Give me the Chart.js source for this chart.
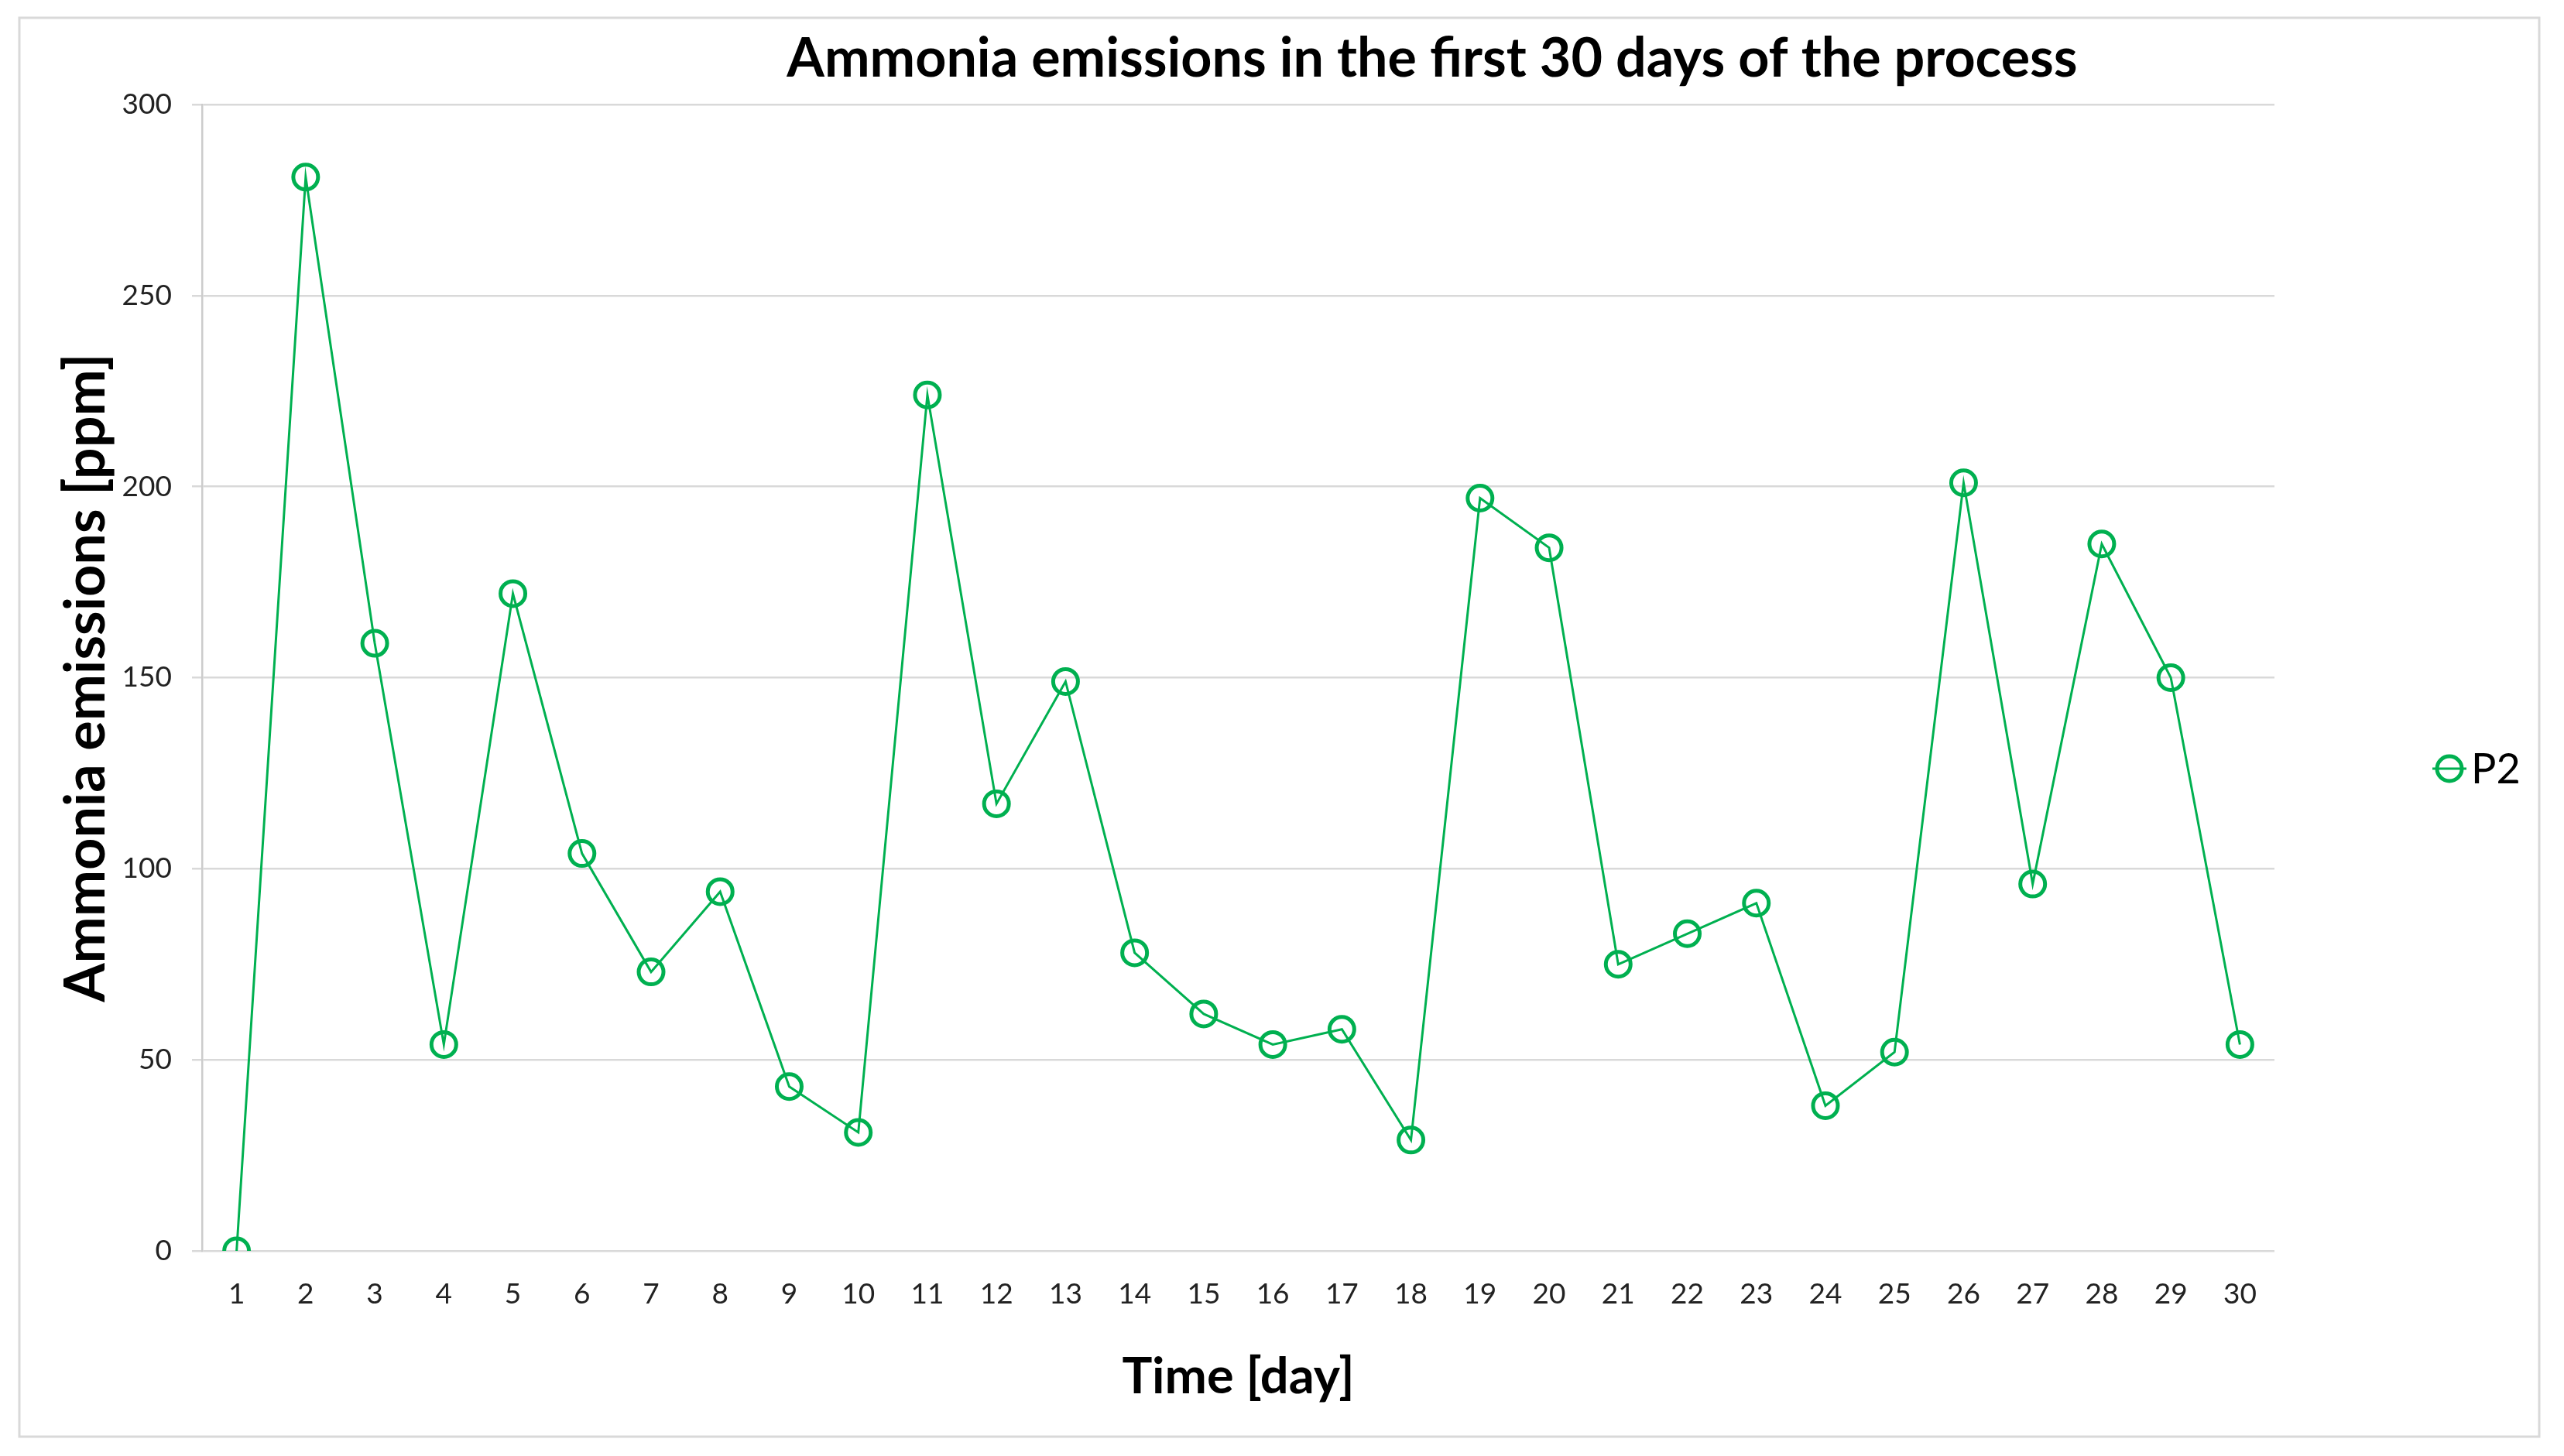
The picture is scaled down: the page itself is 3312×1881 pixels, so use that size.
<!DOCTYPE html>
<html>
<head>
<meta charset="utf-8">
<script src="https://cdn.jsdelivr.net/npm/chart.js@4/dist/chart.umd.min.js"></script>
<style>
  html, body { margin: 0; padding: 0; background: #ffffff; }
  #wrap { width: 3312px; height: 1881px; }
</style>
</head>
<body>
<div id="wrap"><canvas id="c" width="3312" height="1881"></canvas></div>
<script>
const chartTitle = 'Ammonia emissions in the first 30 days of the process';
const xTitle = 'Time [day]';
const yTitle = 'Ammonia emissions [ppm]';
const seriesName = 'P2';
const days = ['1','2','3','4','5','6','7','8','9','10','11','12','13','14','15','16','17','18','19','20','21','22','23','24','25','26','27','28','29','30'];
const p2Values = [0, 281, 159, 54, 172, 104, 73, 94, 43, 31, 224, 117, 149, 78, 62, 54, 58, 29, 197, 184, 75, 83, 91, 38, 52, 201, 96, 185, 150, 54];
const yTicks = [0, 50, 100, 150, 200, 250, 300];

const GREEN = '#00B050';
const FONT = 'Lato, "Open Sans", sans-serif';

const frameAndTitle = {
  id: 'frameAndTitle',
  beforeDraw(chart) {
    const ctx = chart.ctx;
    ctx.save();
    ctx.fillStyle = '#ffffff';
    ctx.fillRect(0, 0, chart.width, chart.height);
    ctx.strokeStyle = '#d9d9d9';
    ctx.lineWidth = 3;
    ctx.strokeRect(25, 23, 3255, 1833);
    ctx.restore();
  },
  afterDraw(chart) {
    const ctx = chart.ctx;
    ctx.save();
    // title
    ctx.fillStyle = '#000000';
    ctx.font = 'bold 70px ' + FONT;
    ctx.textAlign = 'center';
    ctx.textBaseline = 'alphabetic';
    ctx.fillText(chartTitle, 1850, 99);
    // legend
    const ds = chart.data.datasets[0];
    const mx = 3164, my = 993;
    ctx.strokeStyle = ds.borderColor;
    ctx.lineWidth = 3;
    ctx.beginPath();
    ctx.moveTo(mx - 22, my);
    ctx.lineTo(mx + 22, my);
    ctx.stroke();
    ctx.lineWidth = 5;
    ctx.beginPath();
    ctx.arc(mx, my, 16, 0, Math.PI * 2);
    ctx.stroke();
    ctx.fillStyle = '#000000';
    ctx.font = '54px ' + FONT;
    ctx.textAlign = 'left';
    ctx.textBaseline = 'middle';
    ctx.fillText(ds.label, 3192, my + 2);
    ctx.restore();
  }
};

new Chart(document.getElementById('c'), {
  type: 'line',
  data: {
    labels: days,
    datasets: [{
      label: seriesName,
      data: p2Values,
      borderColor: GREEN,
      borderWidth: 3,
      backgroundColor: 'rgba(0,0,0,0)',
      pointStyle: 'circle',
      pointRadius: 16,
      pointBorderWidth: 5,
      pointBorderColor: GREEN,
      pointBackgroundColor: 'rgba(0,0,0,0)',
      pointHoverRadius: 16,
      tension: 0,
      fill: false
    }]
  },
  options: {
    responsive: false,
    devicePixelRatio: 1,
    animation: false,
    layout: { padding: { left: 69, right: 374, top: 135, bottom: 30 } },
    plugins: {
      legend: { display: false },
      title: { display: false },
      tooltip: { enabled: false }
    },
    scales: {
      x: {
        type: 'category',
        offset: true,
        grid: { display: true, drawOnChartArea: false, drawTicks: false },
        border: { display: false },
        ticks: {
          color: '#222222',
          font: { family: FONT, size: 37 },
          padding: 34,
          maxRotation: 0,
          autoSkip: false
        },
        title: {
          display: true,
          text: xTitle,
          color: '#000000',
          font: { family: FONT, size: 65, weight: 'bold' },
          padding: { top: 0, bottom: 33 }
        },
        afterFit(scale) { scale.height = 235; }
      },
      y: {
        min: 0,
        max: 300,
        afterBuildTicks(scale) { scale.ticks = yTicks.map(v => ({ value: v })); },
        grid: { color: '#d9d9d9', lineWidth: 2.5, tickLength: 13, drawTicks: true },
        border: { display: true, color: '#cccccc', width: 2.5 },
        ticks: {
          color: '#222222',
          font: { family: FONT, size: 37 },
          padding: 26
        },
        title: {
          display: true,
          text: yTitle,
          color: '#000000',
          font: { family: FONT, size: 72, weight: 'bold' },
          padding: { top: 0, bottom: 0 }
        },
        afterFit(scale) { scale.width = 261 - 69; }
      }
    }
  },
  plugins: [frameAndTitle]
});
</script>
</body>
</html>
